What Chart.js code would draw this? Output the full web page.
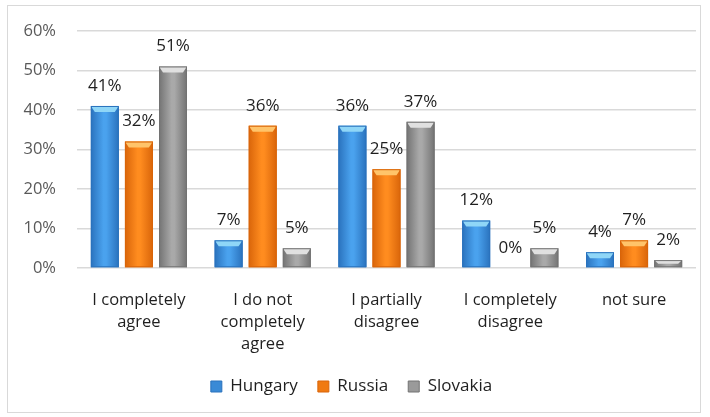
<!DOCTYPE html>
<html>
<head>
<meta charset="utf-8">
<script src="https://cdn.jsdelivr.net/npm/chart.js@4"></script>
<style>
  body { margin: 0; background: #fff; }
  #wrap { position: relative; width: 710px; height: 417px; }
  #frame { position: absolute; left: 7px; top: 5px; width: 692px; height: 406px; border: 1px solid #d9d9d9; }
  canvas { position: absolute; left: 0; top: 0; }
</style>
</head>
<body>
<div id="wrap">
  <div id="frame"></div>
  <canvas id="chart" width="710" height="417"></canvas>
</div>
<script>
// chart data
const categories = [
  ["I completely", "agree"],
  ["I do not", "completely", "agree"],
  ["I partially", "disagree"],
  ["I completely", "disagree"],
  ["not sure"]
];
const hungary = [41, 7, 36, 12, 4];
const russia = [32, 36, 25, 0, 7];
const slovakia = [51, 5, 37, 5, 2];
const yTicks = [0, 10, 20, 30, 40, 50, 60];

const FONT = "'Open Sans', sans-serif";

// shading per series: edge, middle, cap
const shades = [
  { edge: "#2a72bd", mid: "#4aa2ee", cap: "#8fd6f7" },
  { edge: "#d9650a", mid: "#ff8c1f", cap: "#ffc46a" },
  { edge: "#737373", mid: "#a9a9a9", cap: "#e0e0e0" }
];

// draws the cylinder-like look over each bar
const barShade = {
  id: "barShade",
  afterDatasetDraw(chart, args) {
    const ctx = chart.ctx;
    const s = shades[args.index];
    args.meta.data.forEach(el => {
      const { x, y, base, width } = el.getProps(["x", "y", "base", "width"], true);
      const h = base - y;
      if (h < 1) return;
      const l = x - width / 2, r = x + width / 2;
      ctx.save();
      const g = ctx.createLinearGradient(l, 0, r, 0);
      g.addColorStop(0, s.edge);
      g.addColorStop(0.45, s.mid);
      g.addColorStop(0.55, s.mid);
      g.addColorStop(1, s.edge);
      ctx.fillStyle = g;
      ctx.fillRect(l, y, width, h);
      const capH = Math.min(6, h / 2);
      ctx.beginPath();
      ctx.moveTo(l, y);
      ctx.lineTo(r, y);
      ctx.lineTo(r - 4, y + capH);
      ctx.lineTo(l + 4, y + capH);
      ctx.closePath();
      ctx.fillStyle = s.cap;
      ctx.fill();
      ctx.strokeStyle = s.edge;
      ctx.lineWidth = 1;
      ctx.strokeRect(l + 0.5, y + 0.5, width - 1, h - 1);
      ctx.restore();
    });
  }
};

// value labels above bars
const valueLabels = {
  id: "valueLabels",
  afterDatasetsDraw(chart) {
    const ctx = chart.ctx;
    ctx.save();
    ctx.font = "17px " + FONT;
    ctx.fillStyle = "#1f1f1f";
    ctx.textAlign = "center";
    ctx.textBaseline = "middle";
    chart.data.datasets.forEach((ds, i) => {
      chart.getDatasetMeta(i).data.forEach((el, j) => {
        ctx.fillText(ds.data[j] + "%", el.x, el.y - 20);
      });
    });
    ctx.restore();
  }
};

new Chart(document.getElementById("chart"), {
  type: "bar",
  data: {
    labels: categories,
    datasets: [
      { label: "Hungary", data: hungary, backgroundColor: "#3a8ad6", borderColor: "#2a72bd", borderWidth: 1 },
      { label: "Russia", data: russia, backgroundColor: "#f07a12", borderColor: "#d9650a", borderWidth: 1 },
      { label: "Slovakia", data: slovakia, backgroundColor: "#9a9a9a", borderColor: "#737373", borderWidth: 1 }
    ]
  },
  options: {
    responsive: false,
    animation: false,
    devicePixelRatio: 1,
    categoryPercentage: 0.826,
    barPercentage: 0.82,
    layout: { padding: { left: 7, right: 14, top: 27, bottom: 12 } },
    plugins: {
      tooltip: { enabled: false },
      legend: {
        position: "bottom",
        labels: {
          boxWidth: 11,
          boxHeight: 11,
          padding: 20,
          color: "#1f1f1f",
          font: { family: FONT, size: 17 }
        }
      }
    },
    scales: {
      x: {
        grid: { display: false },
        border: { display: false },
        afterFit: s => { s.height = 90; },
        ticks: {
          color: "#1f1f1f",
          padding: 13,
          maxRotation: 0,
          autoSkip: false,
          font: { family: FONT, size: 16.5, lineHeight: 1.35 }
        }
      },
      y: {
        min: 0,
        max: 60,
        afterFit: s => { s.width = 70; },
        afterBuildTicks: s => { s.ticks = yTicks.map(v => ({ value: v })); },
        grid: { color: "#d9d9d9", lineWidth: 1.5, drawTicks: false },
        border: { display: false },
        ticks: {
          color: "#595959",
          padding: 21,
          font: { family: FONT, size: 16.5 },
          callback: v => v + "%"
        }
      }
    }
  },
  plugins: [barShade, valueLabels]
});
</script>
</body>
</html>
